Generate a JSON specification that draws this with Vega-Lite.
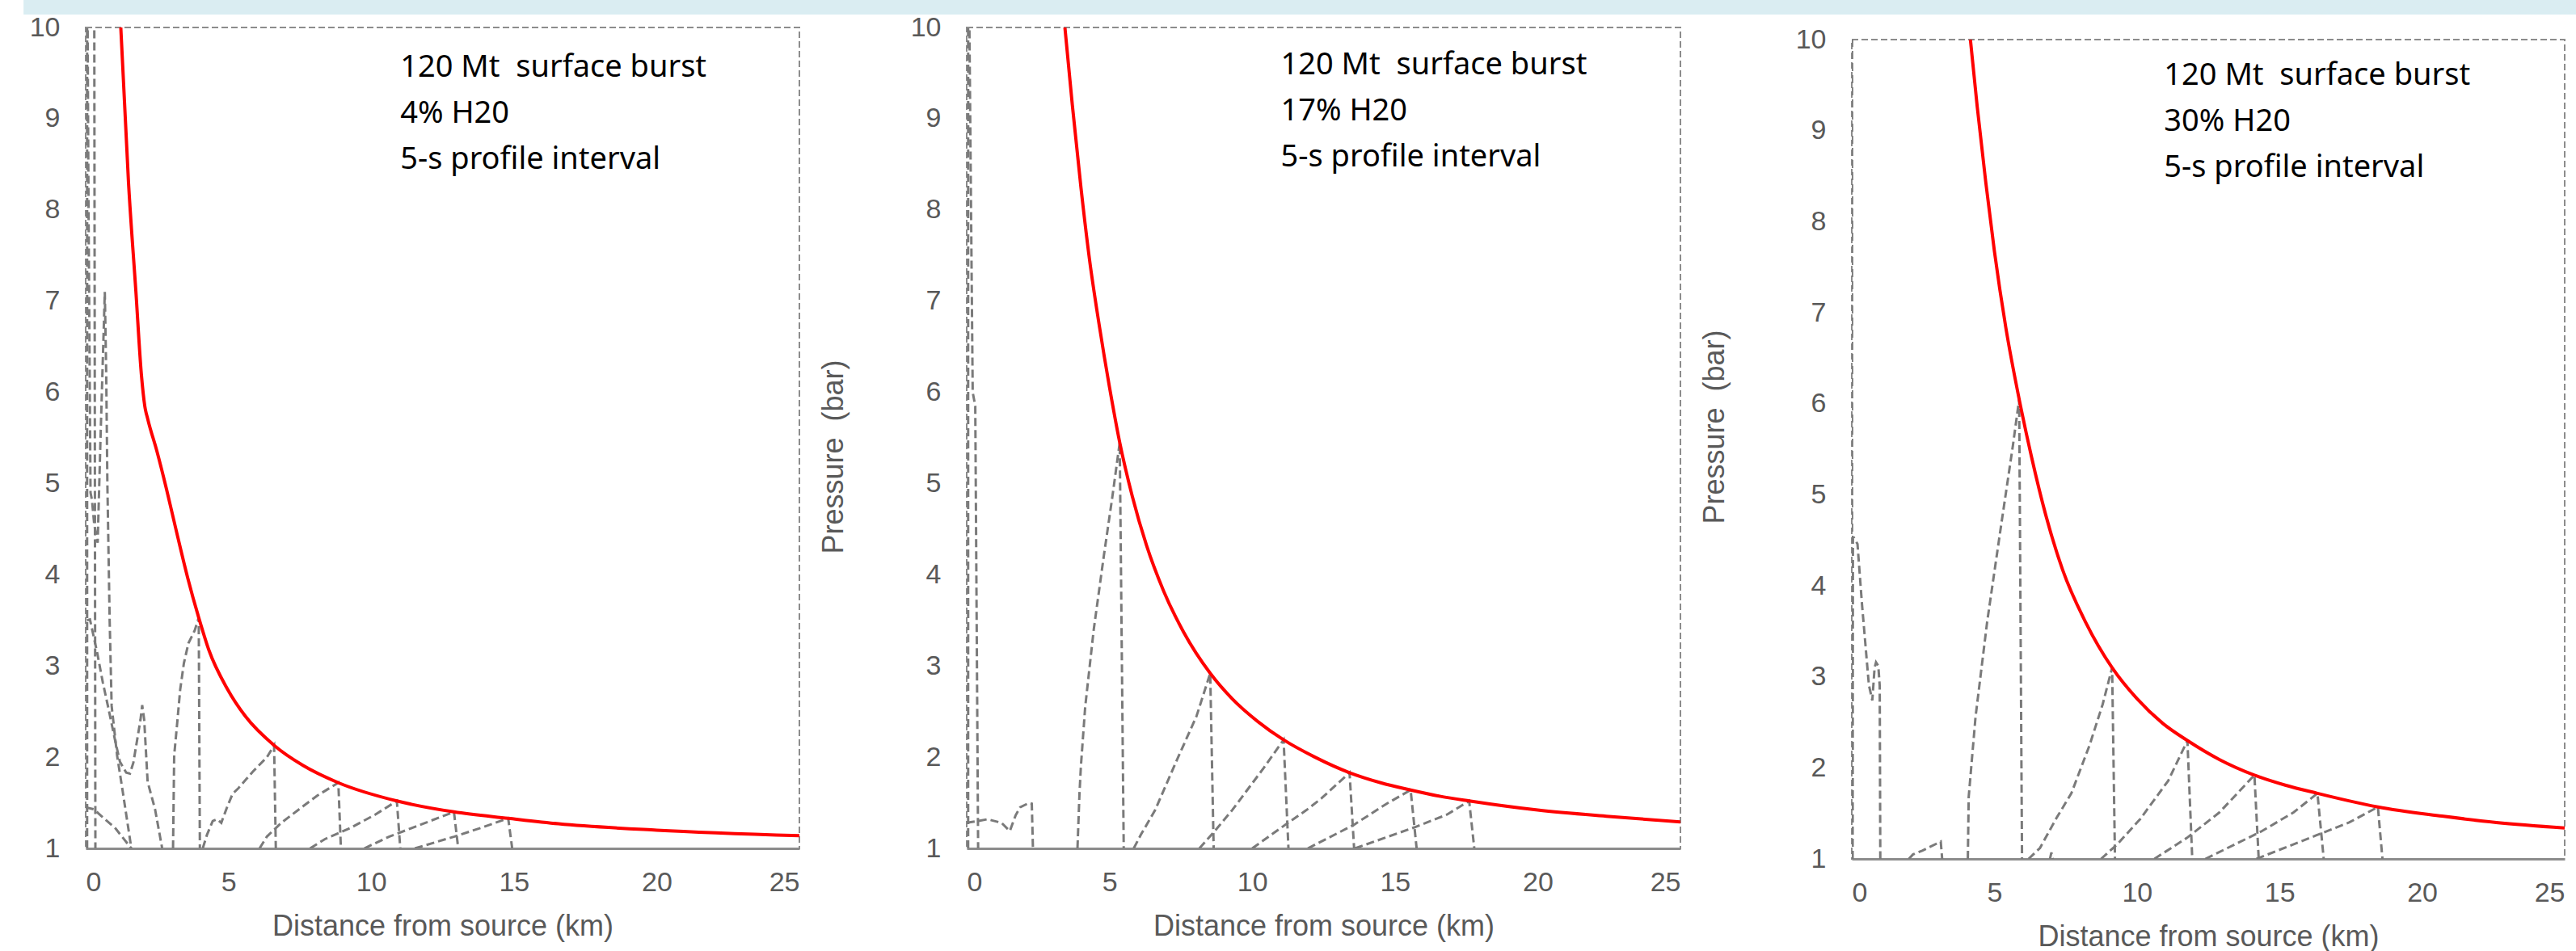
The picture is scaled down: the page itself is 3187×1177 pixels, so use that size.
{
"$schema": "https://vega.github.io/schema/vega-lite/v6.json",
"background": "white",
"padding": {"left": 29, "top": 0, "right": 0, "bottom": 0},
"spacing": -2,
"config": {
  "view": {"stroke": "#8c8c8c", "strokeDash": [8, 4], "strokeWidth": 2},
  "axis": {"labelFont": "Liberation Sans", "titleFont": "Liberation Sans", "labelFontSize": 34, "titleFontSize": 36, "labelColor": "#595959", "titleColor": "#595959", "titleFontWeight": "normal", "grid": false, "ticks": false, "tickSize": 0},
  "axisX": {"domainColor": "#8c8c8c", "domainWidth": 3, "labelPadding": 25, "titlePadding": 20},
  "axisY": {"domain": false, "labelPadding": 32, "titlePadding": 76}
},
"datasets": {
"band": [{"a": -0.0244, "b": 1}],
"d1": [
{"s":"env","x":1.23,"y":10},{"s":"env","x":1.5,"y":8.3},{"s":"env","x":1.76,"y":7.1},{"s":"env","x":1.95,"y":6.2},{"s":"env","x":2.07,"y":5.85},{"s":"env","x":2.18,"y":5.7},{"s":"env","x":2.49,"y":5.36},{"s":"env","x":2.83,"y":4.94},{"s":"env","x":3.19,"y":4.46},{"s":"env","x":3.57,"y":3.97},{"s":"env","x":3.96,"y":3.53},{"s":"env","x":4.32,"y":3.17},{"s":"env","x":4.96,"y":2.75},{"s":"env","x":5.59,"y":2.45},{"s":"env","x":6.6,"y":2.13},{"s":"env","x":7.61,"y":1.91},{"s":"env","x":8.85,"y":1.72},{"s":"env","x":10.9,"y":1.52},{"s":"env","x":12.9,"y":1.4},{"s":"env","x":14.8,"y":1.33},{"s":"env","x":16.56,"y":1.27},{"s":"env","x":20,"y":1.2},{"s":"env","x":25,"y":1.14},
{"s":"p1","x":0.05,"y":1},{"s":"p1","x":0.05,"y":10.5},
{"s":"p2","x":0.3,"y":10.5},{"s":"p2","x":0.34,"y":1},
{"s":"p3","x":0.06,"y":10.5},{"s":"p3","x":0.1,"y":8},{"s":"p3","x":0.17,"y":4.9},{"s":"p3","x":0.22,"y":4.82},{"s":"p3","x":0.3,"y":4.55},{"s":"p3","x":0.42,"y":4.35},{"s":"p3","x":0.52,"y":5.5},{"s":"p3","x":0.67,"y":7.1},{"s":"p3","x":0.72,"y":6.2},{"s":"p3","x":0.76,"y":5.0},{"s":"p3","x":0.84,"y":3.5},{"s":"p3","x":0.91,"y":2.56},{"s":"p3","x":1.1,"y":2.02},{"s":"p3","x":1.29,"y":1.64},{"s":"p3","x":1.6,"y":1},
{"s":"p4","x":0.05,"y":3.5},{"s":"p4","x":0.15,"y":3.51},{"s":"p4","x":0.4,"y":3.15},{"s":"p4","x":0.6,"y":2.82},{"s":"p4","x":0.78,"y":2.56},{"s":"p4","x":1.04,"y":2.17},{"s":"p4","x":1.2,"y":1.95},{"s":"p4","x":1.42,"y":1.83},{"s":"p4","x":1.55,"y":1.82},{"s":"p4","x":1.67,"y":1.94},{"s":"p4","x":1.92,"y":2.41},{"s":"p4","x":1.98,"y":2.57},{"s":"p4","x":2.05,"y":2.41},{"s":"p4","x":2.17,"y":1.73},{"s":"p4","x":2.43,"y":1.43},{"s":"p4","x":2.68,"y":1},
{"s":"p5","x":0,"y":1.45},{"s":"p5","x":0.28,"y":1.43},{"s":"p5","x":0.53,"y":1.36},{"s":"p5","x":1.04,"y":1.22},{"s":"p5","x":1.6,"y":1},
{"s":"p6","x":3.06,"y":1},{"s":"p6","x":3.1,"y":2.02},{"s":"p6","x":3.19,"y":2.32},{"s":"p6","x":3.31,"y":2.74},{"s":"p6","x":3.44,"y":3.03},{"s":"p6","x":3.6,"y":3.25},{"s":"p6","x":3.82,"y":3.39},{"s":"p6","x":3.96,"y":3.53},{"s":"p6","x":4.0,"y":1},
{"s":"p7","x":4.1,"y":1},{"s":"p7","x":4.25,"y":1.15},{"s":"p7","x":4.45,"y":1.3},{"s":"p7","x":4.6,"y":1.32},{"s":"p7","x":4.75,"y":1.28},{"s":"p7","x":4.95,"y":1.45},{"s":"p7","x":5.15,"y":1.6},{"s":"p7","x":5.35,"y":1.66},{"s":"p7","x":5.6,"y":1.75},{"s":"p7","x":5.85,"y":1.84},{"s":"p7","x":6.35,"y":2.0},{"s":"p7","x":6.6,"y":2.13},{"s":"p7","x":6.66,"y":1},
{"s":"p8","x":6.09,"y":1},{"s":"p8","x":6.35,"y":1.13},{"s":"p8","x":6.85,"y":1.28},{"s":"p8","x":7.48,"y":1.43},{"s":"p8","x":8.12,"y":1.58},{"s":"p8","x":8.85,"y":1.72},{"s":"p8","x":8.94,"y":1},
{"s":"p9","x":7.86,"y":1},{"s":"p9","x":8.37,"y":1.1},{"s":"p9","x":9.25,"y":1.22},{"s":"p9","x":10.14,"y":1.37},{"s":"p9","x":10.9,"y":1.52},{"s":"p9","x":11.02,"y":1},
{"s":"p10","x":9.76,"y":1},{"s":"p10","x":10.64,"y":1.13},{"s":"p10","x":11.9,"y":1.28},{"s":"p10","x":12.9,"y":1.4},{"s":"p10","x":13.05,"y":1},
{"s":"p11","x":11.53,"y":1},{"s":"p11","x":12.92,"y":1.13},{"s":"p11","x":13.8,"y":1.22},{"s":"p11","x":14.8,"y":1.33},{"s":"p11","x":14.94,"y":1}
],
"d2": [
{"s":"env","x":3.44,"y":10},{"s":"env","x":3.7,"y":9.15},{"s":"env","x":4.0,"y":8.25},{"s":"env","x":4.3,"y":7.46},{"s":"env","x":4.65,"y":6.72},{"s":"env","x":5.0,"y":6.06},{"s":"env","x":5.36,"y":5.45},{"s":"env","x":5.8,"y":4.86},{"s":"env","x":6.3,"y":4.32},{"s":"env","x":6.9,"y":3.82},{"s":"env","x":7.6,"y":3.37},{"s":"env","x":8.53,"y":2.92},{"s":"env","x":9.3,"y":2.64},{"s":"env","x":10.2,"y":2.39},{"s":"env","x":11.1,"y":2.19},{"s":"env","x":12.2,"y":2.0},{"s":"env","x":13.41,"y":1.83},{"s":"env","x":14.5,"y":1.72},{"s":"env","x":15.55,"y":1.64},{"s":"env","x":16.6,"y":1.57},{"s":"env","x":17.6,"y":1.52},{"s":"env","x":20,"y":1.42},{"s":"env","x":22.5,"y":1.35},{"s":"env","x":25,"y":1.29},
{"s":"q1","x":0.05,"y":1},{"s":"q1","x":0.05,"y":10.5},
{"s":"q2","x":0.08,"y":10.5},{"s":"q2","x":0.21,"y":6.0},{"s":"q2","x":0.3,"y":5.85},{"s":"q2","x":0.4,"y":1},
{"s":"q3","x":0,"y":1.28},{"s":"q3","x":0.4,"y":1.3},{"s":"q3","x":0.73,"y":1.32},{"s":"q3","x":1.22,"y":1.28},{"s":"q3","x":1.51,"y":1.19},{"s":"q3","x":1.71,"y":1.36},{"s":"q3","x":1.87,"y":1.45},{"s":"q3","x":2.19,"y":1.5},{"s":"q3","x":2.28,"y":1.49},{"s":"q3","x":2.32,"y":1},
{"s":"q4","x":3.88,"y":1},{"s":"q4","x":3.95,"y":1.6},{"s":"q4","x":4.0,"y":1.9},{"s":"q4","x":4.15,"y":2.55},{"s":"q4","x":4.45,"y":3.4},{"s":"q4","x":4.8,"y":4.2},{"s":"q4","x":5.1,"y":4.85},{"s":"q4","x":5.36,"y":5.45},{"s":"q4","x":5.5,"y":1},
{"s":"q5","x":5.85,"y":1},{"s":"q5","x":6.1,"y":1.15},{"s":"q5","x":6.6,"y":1.42},{"s":"q5","x":7.35,"y":1.96},{"s":"q5","x":8.05,"y":2.45},{"s":"q5","x":8.53,"y":2.92},{"s":"q5","x":8.65,"y":1},
{"s":"q6","x":8.15,"y":1},{"s":"q6","x":8.69,"y":1.19},{"s":"q6","x":9.3,"y":1.42},{"s":"q6","x":10.4,"y":1.88},{"s":"q6","x":11.1,"y":2.19},{"s":"q6","x":11.27,"y":1},
{"s":"q7","x":10.0,"y":1},{"s":"q7","x":11.3,"y":1.29},{"s":"q7","x":11.9,"y":1.42},{"s":"q7","x":12.43,"y":1.55},{"s":"q7","x":13.41,"y":1.83},{"s":"q7","x":13.57,"y":1},
{"s":"q8","x":11.95,"y":1},{"s":"q8","x":13.57,"y":1.26},{"s":"q8","x":14.71,"y":1.49},{"s":"q8","x":15.55,"y":1.64},{"s":"q8","x":15.76,"y":1},
{"s":"q9","x":13.6,"y":1},{"s":"q9","x":15.68,"y":1.23},{"s":"q9","x":16.82,"y":1.37},{"s":"q9","x":17.6,"y":1.52},{"s":"q9","x":17.78,"y":1}
],
"d3": [
{"s":"env","x":4.16,"y":10},{"s":"env","x":4.4,"y":9.26},{"s":"env","x":4.7,"y":8.43},{"s":"env","x":5.0,"y":7.68},{"s":"env","x":5.4,"y":6.84},{"s":"env","x":5.87,"y":6.05},{"s":"env","x":6.3,"y":5.42},{"s":"env","x":6.8,"y":4.78},{"s":"env","x":7.4,"y":4.17},{"s":"env","x":8.2,"y":3.6},{"s":"env","x":9.13,"y":3.1},{"s":"env","x":10.0,"y":2.76},{"s":"env","x":10.9,"y":2.49},{"s":"env","x":11.77,"y":2.3},{"s":"env","x":12.9,"y":2.09},{"s":"env","x":14.12,"y":1.92},{"s":"env","x":15.2,"y":1.81},{"s":"env","x":16.33,"y":1.72},{"s":"env","x":17.4,"y":1.64},{"s":"env","x":18.45,"y":1.57},{"s":"env","x":20.7,"y":1.47},{"s":"env","x":22.6,"y":1.4},{"s":"env","x":25,"y":1.34},
{"s":"r1","x":0.01,"y":1},{"s":"r1","x":0.01,"y":10.5},
{"s":"r2","x":0.03,"y":1},{"s":"r2","x":0.04,"y":4.53},{"s":"r2","x":0.07,"y":4.53},{"s":"r2","x":0.2,"y":4.46},{"s":"r2","x":0.36,"y":3.79},{"s":"r2","x":0.6,"y":2.91},{"s":"r2","x":0.72,"y":2.74},{"s":"r2","x":0.8,"y":3.1},{"s":"r2","x":0.85,"y":3.16},{"s":"r2","x":0.93,"y":3.12},{"s":"r2","x":0.98,"y":2.9},{"s":"r2","x":1.0,"y":1},
{"s":"r3","x":2.0,"y":1},{"s":"r3","x":2.15,"y":1.05},{"s":"r3","x":2.47,"y":1.09},{"s":"r3","x":3.12,"y":1.19},{"s":"r3","x":3.17,"y":1},
{"s":"r4","x":4.07,"y":1},{"s":"r4","x":4.1,"y":1.68},{"s":"r4","x":4.34,"y":2.56},{"s":"r4","x":4.75,"y":3.61},{"s":"r4","x":5.24,"y":4.67},{"s":"r4","x":5.65,"y":5.54},{"s":"r4","x":5.87,"y":6.05},{"s":"r4","x":5.97,"y":1},
{"s":"r5","x":6.2,"y":1},{"s":"r5","x":6.6,"y":1.12},{"s":"r5","x":7.18,"y":1.45},{"s":"r5","x":7.7,"y":1.72},{"s":"r5","x":8.34,"y":2.25},{"s":"r5","x":8.8,"y":2.7},{"s":"r5","x":9.13,"y":3.1},{"s":"r5","x":9.23,"y":1},
{"s":"r6","x":8.74,"y":1},{"s":"r6","x":9.31,"y":1.16},{"s":"r6","x":10.12,"y":1.44},{"s":"r6","x":11.1,"y":1.86},{"s":"r6","x":11.77,"y":2.3},{"s":"r6","x":11.94,"y":1},
{"s":"r7","x":10.61,"y":1},{"s":"r7","x":11.75,"y":1.23},{"s":"r7","x":12.89,"y":1.51},{"s":"r7","x":14.12,"y":1.92},{"s":"r7","x":14.27,"y":1},
{"s":"r8","x":12.4,"y":1},{"s":"r8","x":14.35,"y":1.3},{"s":"r8","x":15.49,"y":1.51},{"s":"r8","x":16.33,"y":1.72},{"s":"r8","x":16.55,"y":1},
{"s":"r9","x":14.19,"y":1},{"s":"r9","x":16.3,"y":1.26},{"s":"r9","x":17.44,"y":1.4},{"s":"r9","x":18.45,"y":1.57},{"s":"r9","x":18.61,"y":1},
{"s":"r10","x":6.95,"y":1},{"s":"r10","x":7.0,"y":1.07},{"s":"r10","x":7.05,"y":1}
],
"t1": [{"t":"120 Mt\u00a0 surface burst","x":11.02,"y":9.46},{"t":"4% H20","x":11.02,"y":8.955},{"t":"5-s profile interval","x":11.02,"y":8.45}],
"t2": [{"t":"120 Mt\u00a0 surface burst","x":11.0,"y":9.49},{"t":"17% H20","x":11.0,"y":8.985},{"t":"5-s profile interval","x":11.0,"y":8.48}],
"t3": [{"t":"120 Mt\u00a0 surface burst","x":10.95,"y":9.5},{"t":"30% H20","x":10.95,"y":8.995},{"t":"5-s profile interval","x":10.95,"y":8.49}]
},
"vconcat": [
{"width": 3150, "height": 18, "view": {"stroke": null}, "data": {"name": "band"}, "mark": {"type": "rect", "color": "#daedf2"}, "encoding": {"x": {"field": "a", "type": "quantitative", "scale": {"domain": [0, 1], "nice": false, "zero": false}, "axis": null}, "x2": {"field": "b"}}},
{
"spacing": 22,
"hconcat": [
{
 "width": 883, "height": 1016,
 "encoding": {
   "x": {"field": "x", "type": "quantitative", "scale": {"domain": [0, 25], "nice": false}, "axis": {"values": [0,5,10,15,20,25], "title": "Distance from source (km)"}},
   "y": {"field": "y", "type": "quantitative", "scale": {"domain": [1, 10], "nice": false, "zero": false}, "axis": {"values": [1,2,3,4,5,6,7,8,9,10], "title": null}}
 },
 "layer": [
  {"data": {"name": "d1"}, "transform": [{"filter": "datum.s !== 'env'"}], "mark": {"type": "line", "color": "#7a7a7a", "strokeWidth": 3, "strokeDash": [10, 5], "clip": true}, "encoding": {"detail": {"field": "s"}, "order": {"value": null}}},
  {"data": {"name": "d1"}, "transform": [{"filter": "datum.s === 'env'"}], "mark": {"type": "line", "color": "#ff0000", "strokeWidth": 4, "interpolate": "monotone", "clip": true}, "encoding": {}},
  {"data": {"name": "t1"}, "mark": {"type": "text", "align": "left", "baseline": "alphabetic", "font": "Noto Sans", "fontSize": 38, "color": "#000000"}, "encoding": {"text": {"field": "t"}}}
 ]
},
{
 "width": 883, "height": 1016,
 "encoding": {
   "x": {"field": "x", "type": "quantitative", "scale": {"domain": [0, 25], "nice": false}, "axis": {"values": [0,5,10,15,20,25], "title": "Distance from source (km)"}},
   "y": {"field": "y", "type": "quantitative", "scale": {"domain": [1, 10], "nice": false, "zero": false}, "axis": {"values": [1,2,3,4,5,6,7,8,9,10], "title": "Pressure\u00a0 (bar)", "titleY": 531}}
 },
 "layer": [
  {"data": {"name": "d2"}, "transform": [{"filter": "datum.s !== 'env'"}], "mark": {"type": "line", "color": "#7a7a7a", "strokeWidth": 3, "strokeDash": [10, 5], "clip": true}, "encoding": {"detail": {"field": "s"}, "order": {"value": null}}},
  {"data": {"name": "d2"}, "transform": [{"filter": "datum.s === 'env'"}], "mark": {"type": "line", "color": "#ff0000", "strokeWidth": 4, "interpolate": "monotone", "clip": true}, "encoding": {}},
  {"data": {"name": "t2"}, "mark": {"type": "text", "align": "left", "baseline": "alphabetic", "font": "Noto Sans", "fontSize": 38, "color": "#000000"}, "encoding": {"text": {"field": "t"}}}
 ]
},
{
 "spacing": -4,
 "vconcat": [
  {"width": 882, "height": 1, "view": {"stroke": null}, "data": {"values": []}, "mark": {"type": "point", "opacity": 0}},
  {
   "width": 882, "height": 1014,
   "encoding": {
     "x": {"field": "x", "type": "quantitative", "scale": {"domain": [0, 25], "nice": false}, "axis": {"values": [0,5,10,15,20,25], "title": "Distance from source (km)"}},
     "y": {"field": "y", "type": "quantitative", "scale": {"domain": [1, 10], "nice": false, "zero": false}, "axis": {"values": [1,2,3,4,5,6,7,8,9,10], "title": "Pressure\u00a0 (bar)", "titleY": 479, "titlePadding": 81}}
   },
   "layer": [
    {"data": {"name": "d3"}, "transform": [{"filter": "datum.s !== 'env'"}], "mark": {"type": "line", "color": "#7a7a7a", "strokeWidth": 3, "strokeDash": [10, 5], "clip": true}, "encoding": {"detail": {"field": "s"}, "order": {"value": null}}},
    {"data": {"name": "d3"}, "transform": [{"filter": "datum.s === 'env'"}], "mark": {"type": "line", "color": "#ff0000", "strokeWidth": 4, "interpolate": "monotone", "clip": true}, "encoding": {}},
    {"data": {"name": "t3"}, "mark": {"type": "text", "align": "left", "baseline": "alphabetic", "font": "Noto Sans", "fontSize": 38, "color": "#000000"}, "encoding": {"text": {"field": "t"}}}
   ]
  }
 ]
}
]
}
]
}
